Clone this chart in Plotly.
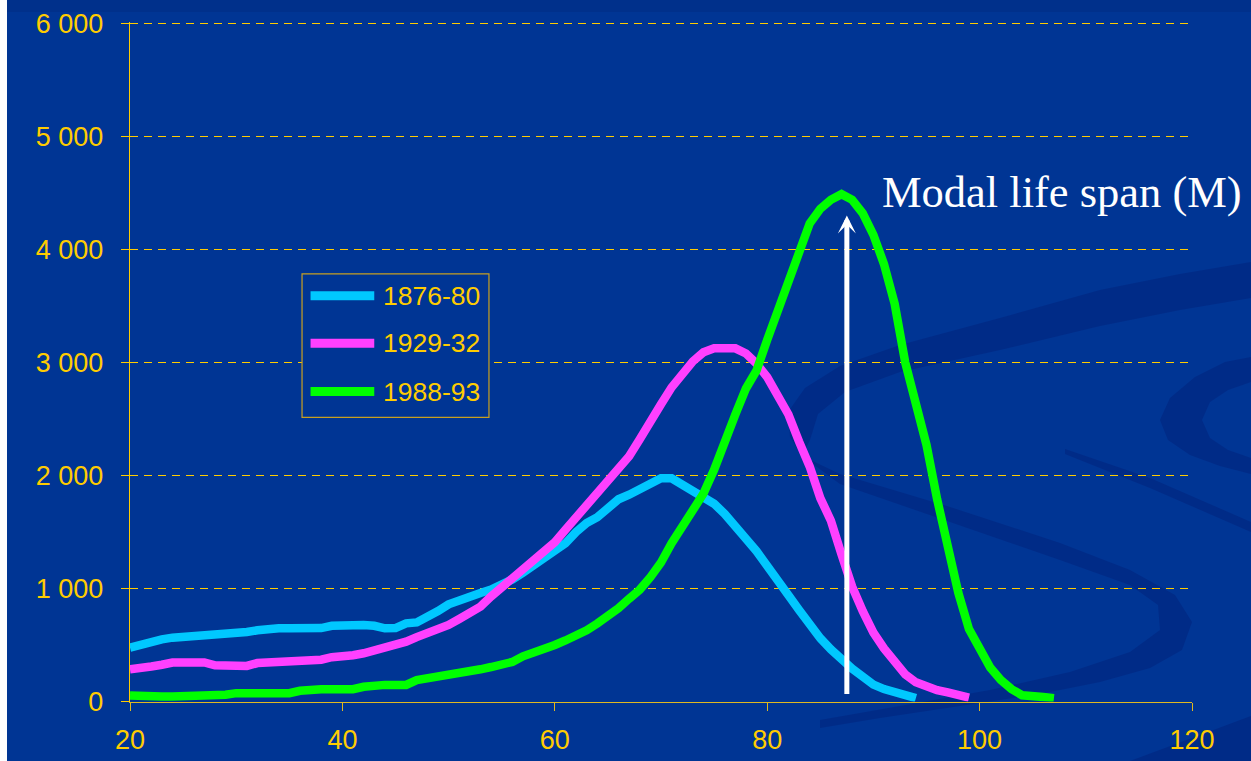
import plotly.graph_objects as go

# Age-at-death distributions (deaths per age), three periods
ages_1876_80 = list(range(20, 95))
deaths_1876_80 = [
    477, 505, 530, 550, 565, 570, 585, 590, 592, 605,
    612, 615, 630, 645, 648, 648, 648, 648, 650, 670,
    677, 677, 677, 670, 648, 650, 692, 700, 745, 800,
    860, 900, 930, 960, 990, 1030, 1080, 1140, 1200, 1260,
    1330, 1400, 1500, 1580, 1630, 1710, 1790, 1830, 1880, 1935,
    1975, 1975, 1920, 1865, 1810, 1750, 1660, 1560, 1440, 1330,
    1190, 1060, 940, 810, 680, 560, 460, 370, 290, 220,
    150, 110, 80, 55, 30,
]

ages_1929_32 = list(range(20, 100))
deaths_1929_32 = [
    286, 290, 310, 325, 345, 345, 345, 345, 320, 315,
    315, 315, 340, 345, 345, 350, 368, 368, 370, 392,
    395, 410, 427, 450, 471, 500, 530, 570, 604, 640,
    677, 730, 781, 840, 930, 1010, 1100, 1180, 1255, 1330,
    1410, 1520, 1630, 1730, 1830, 1950, 2050, 2170, 2320, 2460,
    2630, 2780, 2900, 3010, 3090, 3125, 3125, 3125, 3080, 2990,
    2870, 2700, 2540, 2300, 2080, 1800, 1600, 1300, 1016, 800,
    610, 470, 340, 240, 170, 130, 100, 80, 55, 35,
]

ages_1988_93 = list(range(20, 108))
deaths_1988_93 = [
    53, 44, 44, 44, 44, 44, 44, 44, 44, 60,
    74, 74, 74, 74, 74, 74, 95, 109, 109, 109,
    109, 109, 130, 147, 147, 147, 147, 190, 205, 210,
    230, 240, 260, 285, 305, 330, 350, 400, 430, 470,
    500, 540, 580, 630, 690, 750, 825, 910, 990, 1100,
    1230, 1400, 1540, 1680, 1840, 2050, 2310, 2540, 2770, 2930,
    3200, 3460, 3700, 3980, 4230, 4360, 4440, 4490, 4440, 4320,
    4130, 3870, 3520, 3000, 2620, 2270, 1790, 1330, 960, 640,
    450, 300, 190, 110, 55, 40, 40, 30,
]

series_names = ["1876-80", "1929-32", "1988-93"]
series_colors = ["#00c8ff", "#ff40ff", "#00ff00"]

x_ticks = [20, 40, 60, 80, 100, 120]
y_ticks = [0, 1000, 2000, 3000, 4000, 5000, 6000]
y_tick_labels = ["0", "1 000", "2 000", "3 000", "4 000", "5 000", "6 000"]

modal_age = 87.5
modal_label = "Modal life span (M)"

# ---- page geometry (pixels) ----
FIG_W, FIG_H = 1251, 761
M_L, M_R, M_T, M_B = 130, 59, 22, 59
PLOT_W = FIG_W - M_L - M_R
PLOT_H = FIG_H - M_T - M_B          # 680 px reserved for the plot
Y_LEN = 679.5                       # y axis drawn over 679.5 px -> 113 px per 1000
Y_TOP = 6013.27
Y_DOMAIN = [(PLOT_H - Y_LEN) / PLOT_H, 1]

BG = "#003594"
GOLD = "#ffcc00"
TICK_FONT = dict(family="Arial, Liberation Sans, sans-serif", size=27, color=GOLD)


def px(x):
    return (x - M_L) / PLOT_W


def py(y):
    return (FIG_H - M_B - y) / PLOT_H


def poly(points):
    return "M " + " L ".join(f"{px(x):.5f},{py(y):.5f}" for x, y in points) + " Z"


fig = go.Figure()

for ages, vals, name, color in zip(
    [ages_1876_80, ages_1929_32, ages_1988_93],
    [deaths_1876_80, deaths_1929_32, deaths_1988_93],
    series_names,
    series_colors,
):
    fig.add_trace(go.Scatter(
        x=ages, y=vals, mode="lines", name=name,
        line=dict(color=color, width=8.5),
        showlegend=False, hoverinfo="x+y+name",
    ))

shapes = []

# left white edge of the slide
shapes.append(dict(type="rect", xref="paper", yref="paper",
                   x0=px(-5), x1=px(7), y0=py(FIG_H + 5), y1=py(-5),
                   fillcolor="white", line=dict(width=0), layer="below"))
# slightly darker band along the top
shapes.append(dict(type="rect", xref="paper", yref="paper",
                   x0=px(7), x1=px(FIG_W + 5), y0=py(12), y1=py(-5),
                   fillcolor="rgba(0,30,110,0.22)", line=dict(width=0), layer="below"))

# decorative swirl in the background
swirl = "rgba(0,25,110,0.33)"
swirl_paths = [
    [(1251, 262), (1180, 274), (1100, 290), (1000, 318), (900, 345), (840, 366),
     (805, 388), (788, 412), (790, 437), (802, 456), (810, 440), (818, 414),
     (845, 392), (900, 372), (1000, 350), (1100, 326), (1180, 310), (1251, 298)],
    [(802, 456), (840, 474), (950, 507), (1060, 543), (1130, 570), (1175, 595),
     (1192, 622), (1182, 650), (1150, 668), (1100, 682), (1040, 694), (960, 706),
     (880, 718), (820, 728), (820, 720), (900, 706), (990, 690), (1070, 672),
     (1130, 652), (1160, 630), (1158, 605), (1130, 585), (1060, 560), (950, 522),
     (840, 484)],
    [(1251, 357), (1225, 362), (1195, 377), (1170, 398), (1160, 420), (1168, 440),
     (1190, 455), (1220, 466), (1251, 474), (1251, 458), (1228, 450), (1210, 438),
     (1202, 420), (1210, 402), (1228, 390), (1251, 382)],
    [(1065, 449), (1150, 478), (1251, 522), (1251, 532), (1150, 488), (1065, 454)],
    [(1130, 761), (1200, 735), (1251, 716), (1251, 761)],
]
for pts in swirl_paths:
    shapes.append(dict(type="path", xref="paper", yref="paper", path=poly(pts),
                       fillcolor=swirl, line=dict(width=0), layer="below"))

# hand-drawn legend box
leg_x0, leg_x1 = 36.2, 53.8
leg_y0, leg_y1 = 2514, 3785
shapes.append(dict(type="rect", xref="x", yref="y",
                   x0=leg_x0, x1=leg_x1, y0=leg_y0, y1=leg_y1,
                   line=dict(color="#c8a020", width=1.2), fillcolor=BG, layer="above"))
leg_rows = [3591, 3170, 2743]
annotations = []
for y_row, name, color in zip(leg_rows, series_names, series_colors):
    shapes.append(dict(type="line", xref="x", yref="y",
                       x0=37.0, x1=43.0, y0=y_row, y1=y_row,
                       line=dict(color=color, width=9), layer="above"))
    annotations.append(dict(x=43.6, y=y_row, xref="x", yref="y", text=name,
                            showarrow=False, xanchor="left", yanchor="middle",
                            font=dict(family="Arial, Liberation Sans, sans-serif",
                                      size=26.5, color=GOLD)))

# modal life span arrow and label
annotations.append(dict(x=modal_age, y=4300, ax=modal_age, ay=53,
                        xref="x", yref="y", axref="x", ayref="y",
                        text="", showarrow=True, arrowhead=3, arrowsize=0.6,
                        arrowwidth=5, arrowcolor="white"))
annotations.append(dict(x=90.6, y=4510, xref="x", yref="y", text=modal_label,
                        showarrow=False, xanchor="left", yanchor="middle",
                        font=dict(family="Liberation Serif, Times New Roman, serif",
                                  size=44.5, color="white")))

fig.update_layout(
    width=FIG_W, height=FIG_H,
    margin=dict(l=M_L, r=M_R, t=M_T, b=M_B, autoexpand=False),
    paper_bgcolor=BG, plot_bgcolor="rgba(0,0,0,0)",
    shapes=shapes, annotations=annotations,
    showlegend=False,
)
fig.update_xaxes(
    range=[20, 120], tickvals=x_ticks, ticktext=[str(v) for v in x_ticks],
    showgrid=False, zeroline=False, automargin=False,
    anchor="y", position=0,
    showline=True, linecolor="#e0b820", linewidth=1.2,
    ticks="outside", ticklen=8, tickcolor="#e0b820", tickwidth=1.2,
    tickfont=TICK_FONT, ticklabelstandoff=6,
)
fig.update_yaxes(
    range=[0, Y_TOP], domain=Y_DOMAIN, tickvals=y_ticks, ticktext=y_tick_labels,
    showgrid=True, gridcolor=GOLD, gridwidth=1.1, griddash="8px,6px",
    zeroline=False, automargin=False,
    showline=True, linecolor=GOLD, linewidth=1.4,
    ticks="outside", ticklen=8, tickcolor=GOLD, tickwidth=1.2,
    tickfont=TICK_FONT, ticklabelstandoff=12,
)

fig.write_html("out.html")
